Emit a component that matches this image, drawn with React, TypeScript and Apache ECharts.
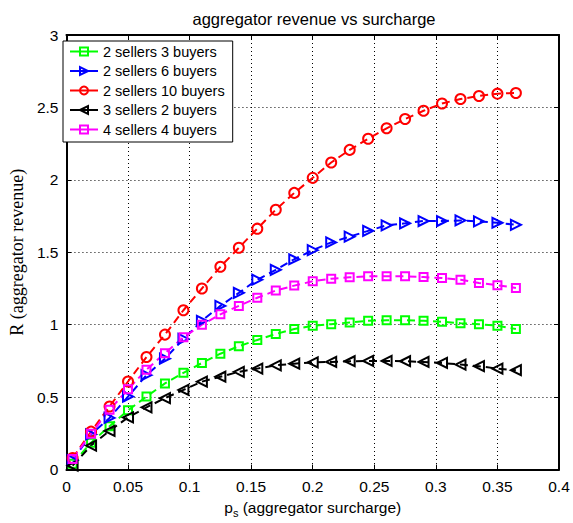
import React, { useEffect, useRef } from "react";
import * as echarts from "echarts";

const surcharge = [0.005, 0.02, 0.035, 0.05, 0.065, 0.08, 0.095, 0.11, 0.125, 0.14, 0.155, 0.17, 0.185, 0.2, 0.215, 0.23, 0.245, 0.26, 0.275, 0.29, 0.305, 0.32, 0.335, 0.35, 0.365];

const s2b3 = [0.04, 0.186, 0.3, 0.409, 0.504, 0.595, 0.668, 0.736, 0.8, 0.852, 0.895, 0.936, 0.97, 0.993, 1.004, 1.016, 1.027, 1.031, 1.031, 1.027, 1.02, 1.011, 1.004, 0.993, 0.97];
const s2b6 = [0.065, 0.243, 0.357, 0.504, 0.652, 0.766, 0.902, 1.027, 1.13, 1.22, 1.311, 1.379, 1.452, 1.515, 1.568, 1.608, 1.648, 1.686, 1.7, 1.716, 1.716, 1.72, 1.713, 1.704, 1.69];
const s2b10 = [0.08, 0.262, 0.436, 0.608, 0.777, 0.932, 1.1, 1.25, 1.4, 1.531, 1.663, 1.794, 1.91, 2.014, 2.12, 2.207, 2.284, 2.356, 2.42, 2.477, 2.527, 2.558, 2.579, 2.595, 2.6];
const s3b2 = [0.027, 0.166, 0.267, 0.36, 0.43, 0.493, 0.55, 0.607, 0.641, 0.675, 0.697, 0.72, 0.731, 0.74, 0.743, 0.748, 0.75, 0.75, 0.748, 0.743, 0.736, 0.725, 0.714, 0.697, 0.686];
const s4b4 = [0.074, 0.248, 0.413, 0.554, 0.69, 0.804, 0.913, 1.0, 1.072, 1.13, 1.186, 1.236, 1.27, 1.3, 1.318, 1.327, 1.334, 1.334, 1.334, 1.329, 1.322, 1.311, 1.288, 1.273, 1.254];

const seriesNames = ["2 sellers 3 buyers", "2 sellers 6 buyers", "2 sellers 10 buyers", "3 sellers 2 buyers", "4 sellers 4 buyers"];
const seriesValues = [s2b3, s2b6, s2b10, s3b2, s4b4];
const seriesColors = ["#00ff00", "#0000ff", "#ff0000", "#000000", "#ff00ff"];
const seriesSymbols = ["rect", "triangle", "circle", "triangle", "rect"];
const seriesRotate = [0, -90, 0, 90, 0];
const seriesSymbolSize = [8, 10, 10, 10, 8];

const SANS = "'Liberation Sans', Arial, Helvetica, sans-serif";
const SERIF = "'Liberation Serif', 'Times New Roman', serif";

export default function App() {
  const ref = useRef<HTMLDivElement>(null);
  useEffect(() => {
    if (!ref.current) return;
    const chart = echarts.init(ref.current, null, { renderer: "svg" });
    const axisLine = { show: true, onZero: false, lineStyle: { color: "#000", width: 2 } };
    const tick = { show: true, inside: true, length: 5, lineStyle: { color: "#000", width: 1 } };
    const option: any = {
      animation: false,
      backgroundColor: "#fff",
      title: {
        text: "aggregator revenue vs surcharge",
        left: 309,
        textAlign: "center",
        top: 5,
        textStyle: { fontFamily: SANS, fontSize: 16.5, fontWeight: "normal", color: "#000" },
      },
      grid: { left: 60, right: 14, top: 35, bottom: 50.5, containLabel: false },
      legend: {
        orient: "vertical",
        left: 63,
        top: 41,
        backgroundColor: "#fff",
        borderColor: "#000",
        borderWidth: 1,
        borderRadius: 0,
        padding: [3, 8, 5, 6],
        itemWidth: 28,
        itemHeight: 10,
        itemGap: 4.5,
        lineStyle: { type: "solid", width: 2 },
        textStyle: { fontFamily: SANS, fontSize: 14.5, color: "#000" },
        data: seriesNames,
      },
      xAxis: [
        {
          type: "value",
          min: 0,
          max: 0.4,
          interval: 0.05,
          position: "bottom",
          axisLine,
          axisTick: tick,
          axisLabel: { color: "#000", fontFamily: SANS, fontSize: 15.5, margin: 9 },
          splitLine: { show: true, lineStyle: { color: "#000", width: 1, type: [1, 3] } },
          name: "{p|p}{s|s}{n| (aggregator surcharge)}",
          nameLocation: "middle",
          nameGap: 24,
          nameTextStyle: {
            color: "#000",
            fontFamily: SANS,
            fontSize: 15.5,
            rich: {
              p: { fontFamily: SANS, fontSize: 15.5, color: "#000" },
              s: { fontFamily: SANS, fontSize: 11, color: "#000", padding: [10, 0, 0, 0] },
              n: { fontFamily: SANS, fontSize: 15.5, color: "#000" },
            },
          },
        },
        {
          type: "value",
          min: 0,
          max: 0.4,
          interval: 0.05,
          position: "top",
          axisLine,
          axisTick: tick,
          axisLabel: { show: false },
          splitLine: { show: false },
        },
      ],
      yAxis: [
        {
          type: "value",
          min: 0,
          max: 3,
          interval: 0.5,
          position: "left",
          axisLine,
          axisTick: tick,
          axisLabel: { color: "#000", fontFamily: SANS, fontSize: 15.5, margin: 8 },
          splitLine: { show: true, lineStyle: { color: "#000", width: 1, type: [1, 3] } },
          name: "R (aggregator revenue)",
          nameLocation: "middle",
          nameGap: 36,
          nameRotate: 90,
          nameTextStyle: { color: "#000", fontFamily: SERIF, fontSize: 18 },
        },
        {
          type: "value",
          min: 0,
          max: 3,
          interval: 0.5,
          position: "right",
          axisLine,
          axisTick: tick,
          axisLabel: { show: false },
          splitLine: { show: false },
        },
      ],
      series: seriesNames.map((name, k) => ({
        name,
        type: "line",
        xAxisIndex: 0,
        yAxisIndex: 0,
        data: surcharge.map((x, i) => [x, seriesValues[k][i]]),
        symbol: seriesSymbols[k],
        symbolSize: seriesSymbolSize[k],
        symbolRotate: seriesRotate[k],
        showAllSymbol: true,
        lineStyle: { color: seriesColors[k], width: 2, type: [8, 5] },
        itemStyle: { color: "rgba(0,0,0,0)", borderColor: seriesColors[k], borderWidth: 2 },
        emphasis: { disabled: true },
      })),
    };
    chart.setOption(option);
    return () => chart.dispose();
  }, []);
  return <div ref={ref} style={{ position: "fixed", left: 0, top: 0, width: 573, height: 523 }} />;
}
